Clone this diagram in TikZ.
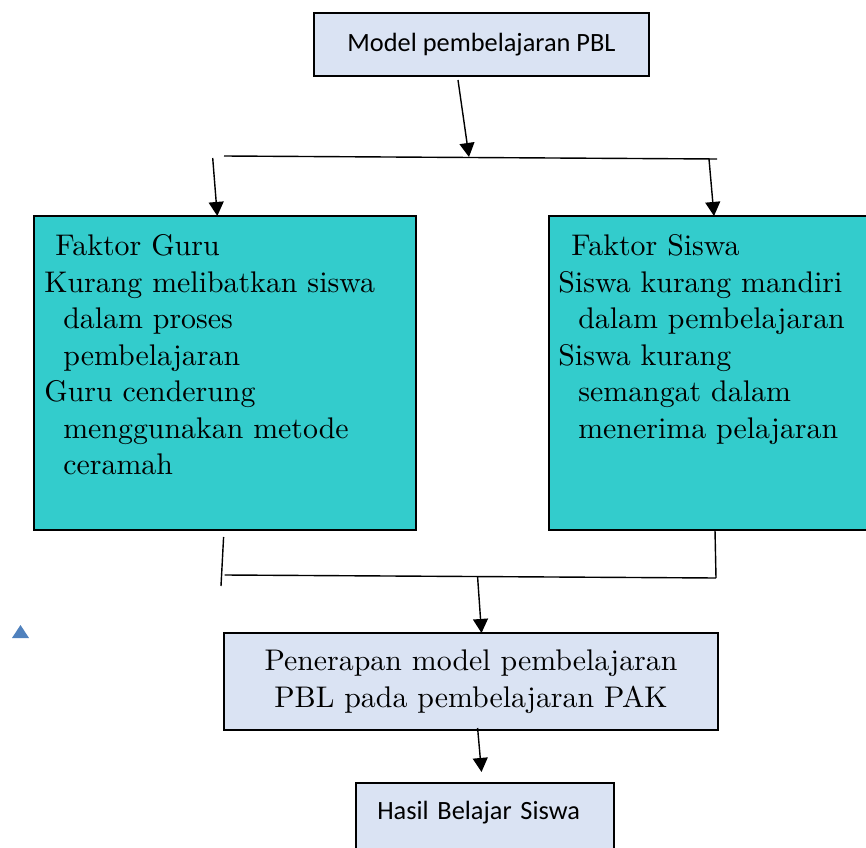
\documentclass[tikz,border=0pt]{standalone}
\usepackage{fontspec}
\setmainfont{lmroman10-regular.otf}
\newfontfamily\carlito{Carlito}
\usetikzlibrary{arrows.meta}
\definecolor{birumuda}{RGB}{218,227,243}
\definecolor{toska}{RGB}{51,204,204}
\definecolor{birusegitiga}{RGB}{79,129,189}
\tikzset{
    garis/.style={line width=0.8pt},
    panah/.style={garis, -{Triangle[width=8.5pt,length=8pt]}},
    birubox/.style={draw=black, line width=0.9pt, fill=birumuda, inner sep=0pt},
    toskabox/.style={draw=black, line width=0.9pt, fill=toska, inner sep=0pt},
    teksserif/.style={font=\fontsize{17}{20.8}\selectfont, inner sep=0pt},
    tekssans/.style={font=\carlito\fontsize{15}{18}\selectfont}
}

\begin{document}
\begin{tikzpicture}[x=0.02cm,y=-0.02cm]
    \useasboundingbox (0,0) rectangle (866,848);
    \clip (0,0) rectangle (866,848);

    \node[birubox, tekssans, minimum width=6.7cm, minimum height=1.26cm] (model) at (481.5,44.5) {Model pembelajaran PBL};
    \node[toskabox, minimum width=7.64cm, minimum height=6.28cm] (guru) at (225,373) {};
    \node[toskabox, minimum width=6.8cm, minimum height=6.28cm] (siswa) at (719,373) {};
    \node[teksserif, align=left, anchor=north west] (guruteks) at (44,234.3)
        {\hspace*{0.22cm}Faktor Guru\\Kurang melibatkan siswa\\\hspace*{0.38cm}dalam proses\\\hspace*{0.38cm}pembelajaran\\Guru cenderung\\\hspace*{0.38cm}menggunakan metode\\\hspace*{0.38cm}ceramah};
    \node[teksserif, align=left, anchor=north west] (siswateks) at (558,234.3)
        {\hspace*{0.26cm}Faktor Siswa\\Siswa kurang mandiri\\\hspace*{0.4cm}dalam pembelajaran\\Siswa kurang\\\hspace*{0.4cm}semangat dalam\\\hspace*{0.4cm}menerima pelajaran};
    \node[birubox, teksserif, align=center, minimum width=9.88cm, minimum height=1.94cm] (penerapan) at (471,681.5)
        {Penerapan model pembelajaran\\PBL pada pembelajaran PAK};
    \node[birubox, tekssans, anchor=north west, text width=4.3cm, align=left, inner xsep=0.43cm, inner ysep=0.34cm, text height=11pt, text depth=1.2cm] (hasil) at (355,782) {Hasil Belajar Siswa};

    \coordinate (atas1) at (458,80);
    \coordinate (atas2) at (469,157);
    \coordinate (cabangkiri) at (224,156);
    \coordinate (cabangkanan) at (717,159);
    \coordinate (kekiri) at (212.7,158);
    \coordinate (kekanan) at (709,159);
    \coordinate (gurubawah1) at (223.6,537);
    \coordinate (gurubawah2) at (221,586);
    \coordinate (gabungkiri) at (224.7,575);
    \coordinate (gabungkanan) at (716,578);
    \coordinate (gabungtengah) at (477.6,577);
    \coordinate (siswabawah) at (715,530);
    \coordinate (penerapanbawah) at (477.6,728);
    \coordinate (hasilatas) at (481.5,772);

    \draw[panah] (atas1) -- (atas2);
    \draw[garis] (cabangkiri) -- (cabangkanan);
    \draw[panah] (kekiri) -- (217.3,216);
    \draw[panah] (kekanan) -- (714,216);
    \draw[garis] (gurubawah1) -- (gurubawah2);
    \draw[garis] (siswabawah) -- (gabungkanan);
    \draw[garis] (gabungkiri) -- (gabungkanan);
    \draw[panah] (gabungtengah) -- (481.5,633);
    \draw[panah] (penerapanbawah) -- (hasilatas);

    \fill[birusegitiga] (12,638) -- (29,638) -- (20.5,625) -- cycle;
\end{tikzpicture}
\end{document}
